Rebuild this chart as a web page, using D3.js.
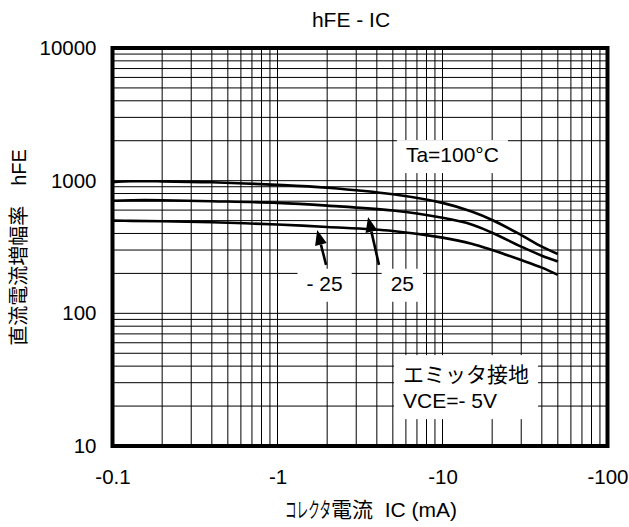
<!DOCTYPE html>
<html>
<head>
<meta charset="UTF-8">
<title>hFE - IC</title>
<script src="https://cdn.jsdelivr.net/npm/d3@7"></script>
<style>
  body { margin: 0; background: #fff; }
  text { font-family: "Liberation Sans", Arial, sans-serif; fill: #000; }
  .jp { font-family: "Noto Sans CJK JP", sans-serif; }
</style>
</head>
<body>
<div id="chart"></div>
<script>
// collector current (mA, magnitude) and DC current gain per temperature
var icValues = [0.1, 0.13, 0.2, 0.4, 1, 2, 5, 10, 15, 20, 30, 40, 50];
var hfe100 = [975, 990, 988, 972, 930, 885, 790, 680, 585, 505, 389, 318, 280];
var hfe25 = [705, 712, 712, 700, 680, 648, 595, 525, 468, 405, 318, 272, 246];
var hfeM25 = [500, 498, 494, 486, 467, 448, 418, 372, 335, 300, 252, 221, 195];

var xTickValues = [0.1, 1, 10, 100];
var xTickLabels = ["-0.1", "-1", "-10", "-100"];
var yTickValues = [10, 100, 1000, 10000];
var yTickLabels = ["10", "100", "1000", "10000"];

// annotations, in data units (IC, hFE)
var notes = [
    {lines: ["Ta=100°C"], at: [6, 1380], anchor: "start"},
    {lines: ["- 25"], at: [1.93, 148], anchor: "middle"},
    {lines: ["25"], at: [5.71, 148], anchor: "middle"},
    {lines: ["エミッタ接地", "VCE=- 5V"], at: [5.76, 30.3], anchor: "start"}
];
var arrows = [
    {from: [1.97, 232], to: [1.74, 425]},
    {from: [4.12, 232], to: [3.54, 532]}
];

(function () {
    var W = 629, H = 527;
    var pLeft = 112.5, pRight = 607.5, pTop = 48, pBottom = 446;

    var svg = d3.select("#chart").append("svg")
            .attr("width", W)
            .attr("height", H);

    var x = d3.scaleLog().domain([0.1, 100]).range([pLeft, pRight]);
    var y = d3.scaleLog().domain([10, 10000]).range([pBottom, pTop]);

    //-----------------------------------------
    // grid
    var grid = svg.append("g").attr("stroke", "#000").attr("stroke-width", 1);
    grid.selectAll("line.v")
            .data(x.ticks())
            .enter().append("line")
            .attr("class", "v")
            .attr("x1", function (d) { return x(d); })
            .attr("x2", function (d) { return x(d); })
            .attr("y1", pTop)
            .attr("y2", pBottom);
    grid.selectAll("line.h")
            .data(y.ticks())
            .enter().append("line")
            .attr("class", "h")
            .attr("x1", pLeft)
            .attr("x2", pRight)
            .attr("y1", function (d) { return y(d); })
            .attr("y2", function (d) { return y(d); });

    //-----------------------------------------
    // annotation labels with white boxes over the grid
    var noteLayer = svg.append("g");
    notes.forEach(function (n) {
        var g = noteLayer.append("g");
        var t = g.append("text")
                .attr("x", x(n.at[0]))
                .attr("y", y(n.at[1]))
                .attr("text-anchor", n.anchor)
                .style("font-size", "21px");
        n.lines.forEach(function (s, i) {
            t.append("tspan")
                    .attr("x", x(n.at[0]))
                    .attr("dy", i === 0 ? 0 : 26)
                    .attr("class", /[\u3000-\u9fff]/.test(s) ? "jp" : null)
                    .text(s);
        });
        var b = t.node().getBBox();
        g.insert("rect", "text")
                .attr("x", b.x - 9)
                .attr("y", b.y - 3)
                .attr("width", b.width + 18)
                .attr("height", b.height + 10)
                .attr("fill", "#fff");
    });

    //-----------------------------------------
    // curves
    var line = d3.line()
            .x(function (d) { return x(d[0]); })
            .y(function (d) { return y(d[1]); })
            .curve(d3.curveCatmullRom.alpha(0.5));

    [hfe100, hfe25, hfeM25].forEach(function (vals) {
        svg.append("path")
                .datum(icValues.map(function (ic, i) { return [ic, vals[i]]; }))
                .attr("d", line)
                .attr("fill", "none")
                .attr("stroke", "#000")
                .attr("stroke-width", 2.6)
                .attr("stroke-linejoin", "round");
    });

    //-----------------------------------------
    // arrows
    arrows.forEach(function (a) {
        var x0 = x(a.from[0]), y0 = y(a.from[1]);
        var x1 = x(a.to[0]), y1 = y(a.to[1]);
        var ang = Math.atan2(y1 - y0, x1 - x0);
        var len = 15, half = 6;
        var bx = x1 - len * Math.cos(ang), by = y1 - len * Math.sin(ang);
        svg.append("line")
                .attr("x1", x0).attr("y1", y0)
                .attr("x2", bx).attr("y2", by)
                .attr("stroke", "#000")
                .attr("stroke-width", 2.6);
        svg.append("polygon")
                .attr("points", [
                    [x1, y1],
                    [bx + half * Math.sin(ang), by - half * Math.cos(ang)],
                    [bx - half * Math.sin(ang), by + half * Math.cos(ang)]
                ].map(function (p) { return p.join(","); }).join(" "))
                .attr("fill", "#000");
    });

    //-----------------------------------------
    // frame
    svg.append("rect")
            .attr("x", pLeft)
            .attr("y", pTop)
            .attr("width", pRight - pLeft)
            .attr("height", pBottom - pTop)
            .attr("fill", "none")
            .attr("stroke", "#000")
            .attr("stroke-width", 4);

    //-----------------------------------------
    // axes (labels only)
    var xAxis = d3.axisBottom(x)
            .tickValues(xTickValues)
            .tickFormat(function (d, i) { return xTickLabels[i]; })
            .tickSize(0)
            .tickPadding(23);
    var yAxis = d3.axisLeft(y)
            .tickValues(yTickValues)
            .tickFormat(function (d, i) { return yTickLabels[i]; })
            .tickSize(0)
            .tickPadding(16);

    svg.append("g")
            .attr("transform", "translate(0," + pBottom + ")")
            .call(xAxis)
            .call(function (g) { g.select(".domain").remove(); })
            .selectAll("text")
            .style("font-size", "20.5px")
            .style("font-family", "'Liberation Sans', Arial, sans-serif");
    svg.append("g")
            .attr("transform", "translate(" + pLeft + ",0)")
            .call(yAxis)
            .call(function (g) { g.select(".domain").remove(); })
            .selectAll("text")
            .style("font-size", "20.5px")
            .style("font-family", "'Liberation Sans', Arial, sans-serif");

    //-----------------------------------------
    // titles
    svg.append("text")
            .attr("x", 351)
            .attr("y", 27)
            .attr("text-anchor", "middle")
            .style("font-size", "21px")
            .text("hFE - IC");

    var xl = svg.append("text")
            .attr("x", 285)
            .attr("y", 517)
            .style("font-size", "21px");
    xl.append("tspan").attr("class", "jp")
            .attr("textLength", 46).attr("lengthAdjust", "spacingAndGlyphs")
            .text("コレクタ");
    xl.append("tspan").attr("class", "jp").text("電流");
    xl.append("tspan").text("\u00a0\u00a0IC (mA)");

    var yl = svg.append("text")
            .attr("transform", "translate(25.5,247.5) rotate(-90)")
            .attr("text-anchor", "middle")
            .style("font-size", "20px");
    yl.append("tspan").attr("class", "jp").text("直流電流増幅率\u3000");
    yl.append("tspan").text("hFE");
})();
</script>
</body>
</html>
